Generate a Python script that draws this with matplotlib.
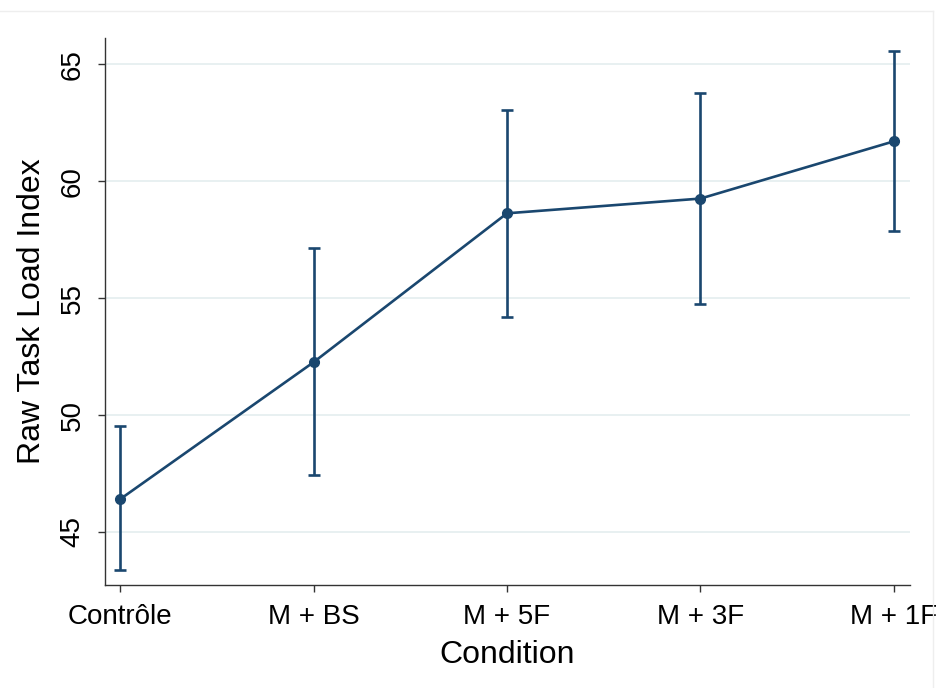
import matplotlib.pyplot as plt
from matplotlib.lines import Line2D

# values
conditions = ["Contrôle", "M + BS", "M + 5F", "M + 3F", "M + 1F"]
means = [46.40, 52.26, 58.63, 59.26, 61.71]
upper = [49.54, 57.15, 63.03, 63.76, 65.56]
lower = [43.37, 47.42, 54.21, 54.74, 57.89]
yticks = [45, 50, 55, 60, 65]

navy = "#1a476f"
grid_col = "#e4eeef"

plt.rcParams["font.family"] = ["Liberation Sans", "DejaVu Sans"]


def main():
    fig = plt.figure(figsize=(9.36, 6.88), dpi=100)
    ax = fig.add_axes([0.1122, 0.1497, 0.860, 0.7951])

    x = list(range(len(conditions)))
    yerr = [[m - lo for m, lo in zip(means, lower)],
            [hi - m for m, hi in zip(means, upper)]]
    ax.errorbar(x, means, yerr=yerr, color=navy, lw=1.9, marker="o",
                markersize=7, capsize=4.5, capthick=1.9, elinewidth=1.9,
                zorder=3)

    ax.set_xlim(-0.078, 4.083)
    ax.set_ylim(42.73, 66.13)
    ax.set_yticks(yticks)
    ax.set_xticks(x)
    ax.set_xticklabels(conditions)
    ax.set_yticklabels([str(t) for t in yticks], rotation=90, va="center")
    ax.tick_params(axis="both", direction="out", length=5, width=1,
                   color="#333333", labelsize=20)
    ax.tick_params(axis="x", pad=9)
    ax.tick_params(axis="y", pad=9)

    for t in yticks:
        ax.axhline(t, color=grid_col, lw=1.2, zorder=0)

    for side in ["top", "right"]:
        ax.spines[side].set_visible(False)
    for side in ["left", "bottom"]:
        ax.spines[side].set_color("#333333")
        ax.spines[side].set_linewidth(1.0)

    ax.set_xlabel("Condition", fontsize=23, labelpad=7)
    ax.set_ylabel("Raw Task Load Index", fontsize=23, labelpad=9)

    # faint outer frame of the original graph window
    fig.add_artist(Line2D([0, 0.997], [0.984, 0.984], color="#eeeeee",
                          lw=1.0, transform=fig.transFigure))
    fig.add_artist(Line2D([0.997, 0.997], [0, 0.984], color="#eeeeee",
                          lw=1.0, transform=fig.transFigure))

    fig.savefig("out.png", dpi=100)


if __name__ == "__main__":
    main()
